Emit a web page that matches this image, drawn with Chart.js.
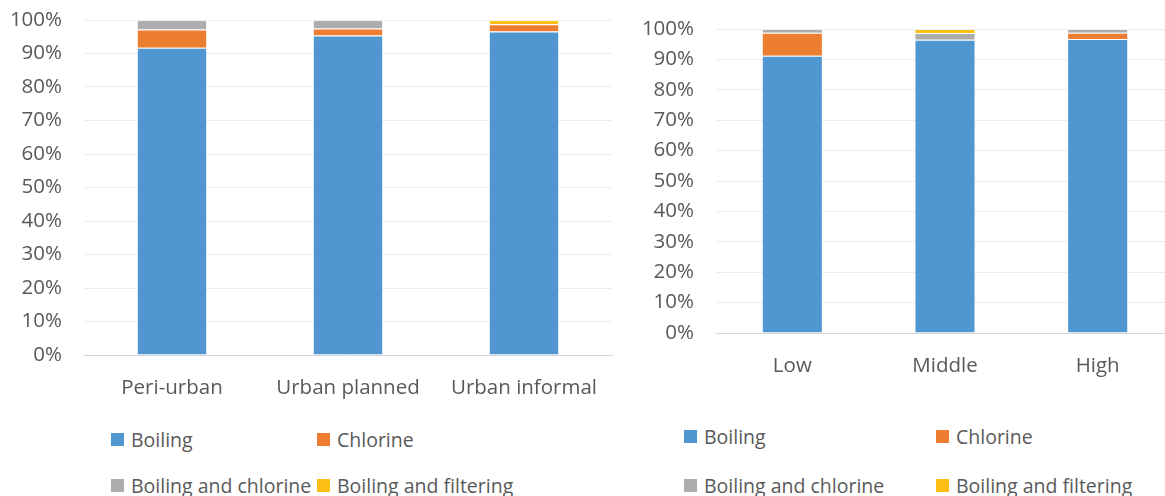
<!DOCTYPE html>
<html>
<head>
<meta charset="utf-8">
<script src="https://cdn.jsdelivr.net/npm/chart.js@4/dist/chart.umd.min.js"></script>
<style>
  html, body { margin: 0; padding: 0; background: #fff; width: 1165px; height: 496px; overflow: hidden; position: relative; }
  .box { position: absolute; }
  .legend { position: absolute; font-family: "Open Sans", sans-serif; font-size: 19.5px; color: #595959; }
  .item { position: absolute; display: flex; align-items: center; white-space: nowrap; height: 26px; }
  .swatch { width: 13px; height: 13px; margin-right: 7px; flex: none; }
</style>
</head>
<body>
<div class="box" style="left:0;top:0;width:640px;height:400px;"><canvas id="area"></canvas></div>
<div class="box" style="left:640px;top:0;width:540px;height:380px;"><canvas id="wealth"></canvas></div>
<div class="legend" id="legendArea"></div>
<div class="legend" id="legendWealth"></div>
<script>
// Treatment method shares (%) by area type
const areaLabels = ['Peri-urban', 'Urban planned', 'Urban informal'];
const areaBoiling = [91.7, 95.4, 96.6];
const areaChlorine = [5.5, 2.1, 2.1];
const areaBoilingChlorine = [2.8, 2.5, 0];
const areaBoilingFiltering = [0, 0, 1.3];

// Treatment method shares (%) by wealth group
const wealthLabels = ['Low', 'Middle', 'High'];
const wealthBoiling = [91.2, 96.5, 96.7];
const wealthChlorine = [7.6, 0, 2.1];
const wealthBoilingChlorine = [1.2, 2.2, 1.2];
const wealthBoilingFiltering = [0, 1.3, 0];

const seriesNames = ['Boiling', 'Chlorine', 'Boiling and chlorine', 'Boiling and filtering'];
const seriesColors = ['#5096d1', '#ed7d31', '#adadb0', '#fcbf14'];
const yTicks = [0, 10, 20, 30, 40, 50, 60, 70, 80, 90, 100];

const FONT = '"Open Sans", sans-serif';
const TEXT = '#595959';

// keep the plot area exactly where the layout padding puts it
function noOverflow(s) {
  s.paddingTop = 0; s.paddingBottom = 0; s.paddingLeft = 0; s.paddingRight = 0;
}

function makeChart(id, labels, series, opt) {
  const datasets = series.map((data, i) => ({
    label: seriesNames[i],
    data: data,
    backgroundColor: seriesColors[i],
    borderColor: 'rgba(255,255,255,0.35)',
    borderWidth: 1,
    borderSkipped: 'start',
    categoryPercentage: 1,
    barPercentage: opt.barPct
  }));
  return new Chart(document.getElementById(id), {
    type: 'bar',
    data: { labels: labels, datasets: datasets },
    options: {
      responsive: true,
      maintainAspectRatio: false,
      animation: false,
      layout: { padding: { top: opt.top, right: opt.right, left: 0, bottom: 0 } },
      plugins: { legend: { display: false }, tooltip: { enabled: false } },
      scales: {
        x: {
          stacked: true,
          grid: { display: false, drawTicks: false },
          border: { color: '#d6d6d6', width: 1 },
          ticks: { color: TEXT, font: { family: FONT, size: 20.5 }, padding: opt.xPad },
          afterFit: s => { s.height = opt.xHeight; noOverflow(s); }
        },
        y: {
          stacked: true,
          min: 0, max: 100,
          afterBuildTicks: s => { s.ticks = yTicks.map(v => ({ value: v })); },
          grid: { color: '#ececec', drawTicks: false },
          border: { display: false },
          ticks: { color: TEXT, font: { family: FONT, size: 20.5 }, padding: opt.yPad, callback: v => v + '%' },
          afterFit: s => { s.width = opt.yWidth; noOverflow(s); }
        }
      }
    }
  });
}

makeChart('area', areaLabels,
  [areaBoiling, areaChlorine, areaBoilingChlorine, areaBoilingFiltering],
  { barPct: 0.4, top: 20, right: 28, xHeight: 45, xPad: 21, yWidth: 84, yPad: 22 });

makeChart('wealth', wealthLabels,
  [wealthBoiling, wealthChlorine, wealthBoilingChlorine, wealthBoilingFiltering],
  { barPct: 0.4, top: 29, right: 6, xHeight: 47, xPad: 21, yWidth: 76, yPad: 22 });

// Two-column legends below each chart
function buildLegend(id, x0, colW, rowYs) {
  const el = document.getElementById(id);
  seriesNames.forEach((name, i) => {
    const item = document.createElement('div');
    item.className = 'item';
    item.style.left = (x0 + (i % 2) * colW) + 'px';
    item.style.top = (rowYs[Math.floor(i / 2)] - 13) + 'px';
    const sw = document.createElement('span');
    sw.className = 'swatch';
    sw.style.background = seriesColors[i];
    const tx = document.createElement('span');
    tx.textContent = name;
    item.appendChild(sw);
    item.appendChild(tx);
    el.appendChild(item);
  });
}
buildLegend('legendArea', 111, 206, [439, 485]);
buildLegend('legendWealth', 684, 252, [436, 485]);
</script>
</body>
</html>
